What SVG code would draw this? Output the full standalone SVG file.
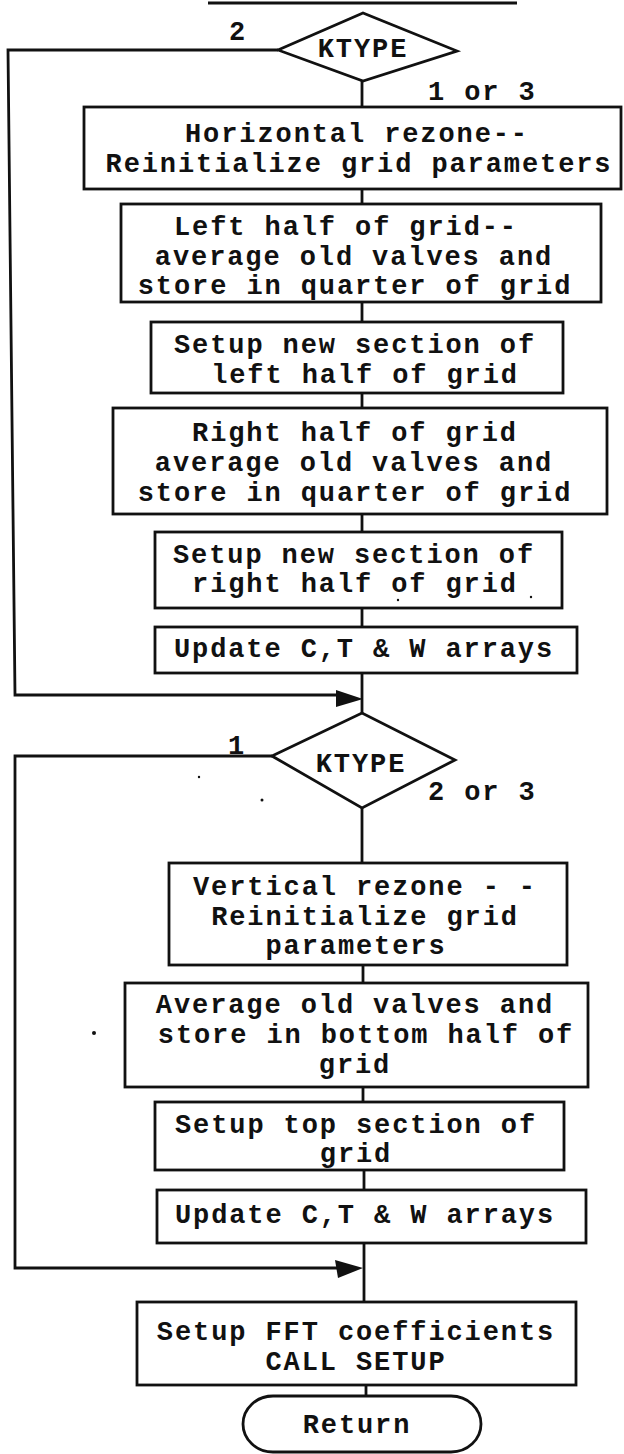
<svg xmlns="http://www.w3.org/2000/svg" width="624" height="1454" viewBox="0 0 624 1454">
<style>
.box{fill:#fff;stroke:#111;stroke-width:2.8}
.ln{fill:none;stroke:#111;stroke-width:2.8}
.ah{fill:#111;stroke:none}
.t{font-family:"Liberation Mono","DejaVu Sans Mono",monospace;font-weight:bold;font-size:27px;letter-spacing:1.9px;fill:#111;text-anchor:middle}
.lbl{font-family:"Liberation Mono","DejaVu Sans Mono",monospace;font-weight:bold;font-size:27px;letter-spacing:1.9px;fill:#111}
</style>
<rect width="624" height="1454" fill="#fff"/>
<g id="connectors">
<path class="ln" d="M208,3 L517,3" stroke-width="3"/>
<path class="ln" d="M362,81 L362,107"/>
<path class="ln" d="M362,189 L362,204"/>
<path class="ln" d="M362,302 L362,322"/>
<path class="ln" d="M362,393 L362,408"/>
<path class="ln" d="M362,514 L362,532"/>
<path class="ln" d="M362,608 L362,627"/>
<path class="ln" d="M362,673 L362,713"/>
<path class="ln" d="M278,50 L8,50 L15,695 L340,695"/>
<polygon class="ah" points="336,690 363,699 336,707"/>
<path class="ln" d="M362,808 L362,863"/>
<path class="ln" d="M363,965 L363,983"/>
<path class="ln" d="M363,1087 L363,1102"/>
<path class="ln" d="M364,1170 L364,1190"/>
<path class="ln" d="M364,1243 L364,1302"/>
<path class="ln" d="M272,756 L15,756 L15,1268 L340,1268"/>
<polygon class="ah" points="335,1260 363,1268 338,1278"/>
<path class="ln" d="M366,1385 L366,1396"/>
<text class="lbl" x="229" y="40">2</text>
<text class="lbl" x="428" y="100">1 or 3</text>
<text class="lbl" x="228" y="754">1</text>
<text class="lbl" x="428" y="800">2 or 3</text>
</g>
<g id="ktype1">
<polygon class="box" points="278,50 363,13 457,51 363,81"/>
<text class="t" x="363" y="57">KTYPE</text>
</g>
<g id="hrezone">
<rect class="box" x="84" y="107" width="537" height="82"/>
<text class="t" x="357" y="142">Horizontal rezone--</text>
<text class="t" x="359" y="172">Reinitialize grid parameters</text>
</g>
<g id="lefthalf">
<rect class="box" x="121" y="204" width="480" height="98"/>
<text class="t" x="346" y="235">Left half of grid--</text>
<text class="t" x="354" y="265">average old valves and</text>
<text class="t" x="355" y="294">store in quarter of grid</text>
</g>
<g id="setupleft">
<rect class="box" x="151" y="322" width="412" height="71"/>
<text class="t" x="355" y="353">Setup new section of</text>
<text class="t" x="365" y="383">left half of grid</text>
</g>
<g id="righthalf">
<rect class="box" x="113" y="408" width="494" height="106"/>
<text class="t" x="355" y="441">Right half of grid</text>
<text class="t" x="354" y="471">average old valves and</text>
<text class="t" x="355" y="501">store in quarter of grid</text>
</g>
<g id="setupright">
<rect class="box" x="155" y="532" width="407" height="76"/>
<text class="t" x="354" y="563">Setup new section of</text>
<text class="t" x="355" y="592">right half of grid</text>
</g>
<g id="update1">
<rect class="box" x="155" y="627" width="422" height="46"/>
<text class="t" x="364" y="657">Update C,T &amp; W arrays</text>
</g>
<g id="ktype2">
<polygon class="box" points="272,756 362,713 455,760 362,808"/>
<text class="t" x="361" y="772">KTYPE</text>
</g>
<g id="vrezone">
<rect class="box" x="169" y="863" width="398" height="102"/>
<text class="t" x="365" y="895">Vertical rezone - -</text>
<text class="t" x="365" y="925">Reinitialize grid</text>
<text class="t" x="356" y="954">parameters</text>
</g>
<g id="average">
<rect class="box" x="125" y="983" width="463" height="104"/>
<text class="t" x="355" y="1013">Average old valves and</text>
<text class="t" x="366" y="1043">store in bottom half of</text>
<text class="t" x="355" y="1073">grid</text>
</g>
<g id="setuptop">
<rect class="box" x="155" y="1102" width="409" height="68"/>
<text class="t" x="356" y="1133">Setup top section of</text>
<text class="t" x="356" y="1162">grid</text>
</g>
<g id="update2">
<rect class="box" x="157" y="1190" width="429" height="53"/>
<text class="t" x="365" y="1223">Update C,T &amp; W arrays</text>
</g>
<g id="fft">
<rect class="box" x="137" y="1302" width="439" height="83"/>
<text class="t" x="356" y="1340">Setup FFT coefficients</text>
<text class="t" x="356" y="1370">CALL SETUP</text>
</g>
<g id="return">
<rect class="box" x="243" y="1396" width="238" height="56" rx="30" ry="28"/>
<text class="t" x="357" y="1433">Return</text>
</g>
<g id="specks" fill="#111">
<circle cx="94" cy="1033" r="2"/>
<circle cx="199" cy="777" r="1.2"/>
<circle cx="262" cy="800" r="1.5"/>
<circle cx="531" cy="597" r="1.2"/>
<circle cx="398" cy="600" r="1.2"/>
</g>
</svg>
